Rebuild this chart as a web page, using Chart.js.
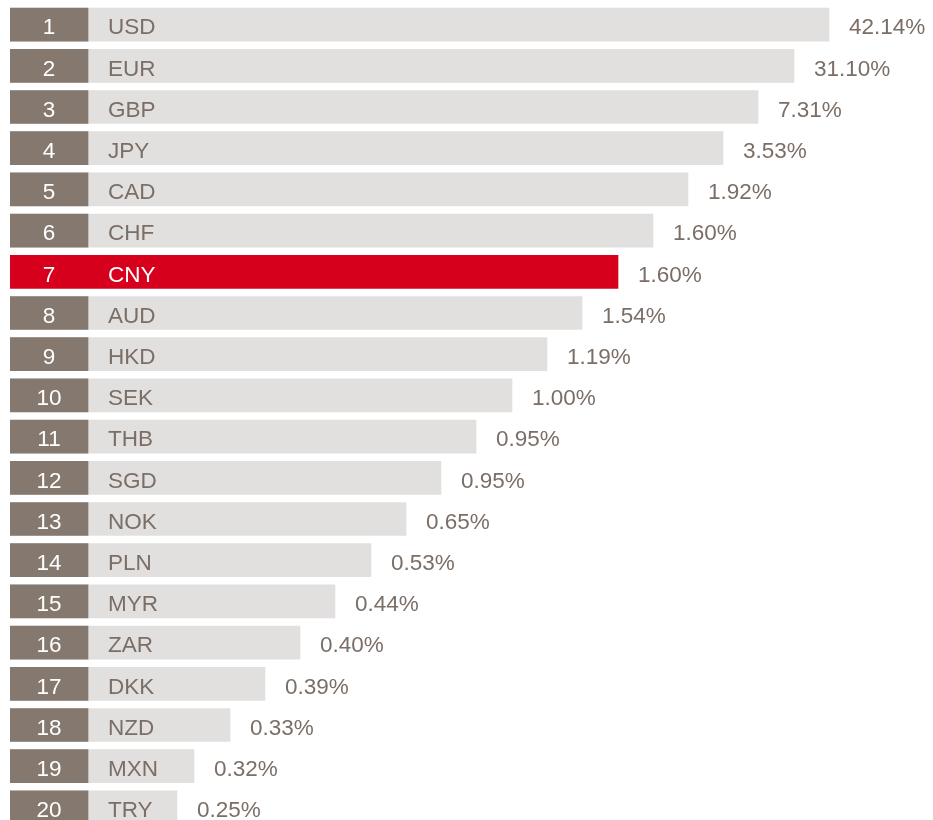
<!DOCTYPE html>
<html><head><meta charset="utf-8">
<script src="https://cdn.jsdelivr.net/npm/chart.js@4/dist/chart.umd.min.js"></script>
<style>html,body{margin:0;padding:0;background:#fff;overflow:hidden}canvas{display:block}</style>
</head><body>
<canvas id="c" width="933" height="828"></canvas>
<script>
// ---- data ----
const ranks = [1,2,3,4,5,6,7,8,9,10,11,12,13,14,15,16,17,18,19,20];
const currencies = ['USD','EUR','GBP','JPY','CAD','CHF','CNY','AUD','HKD','SEK','THB','SGD','NOK','PLN','MYR','ZAR','DKK','NZD','MXN','TRY'];
const shares = [42.14,31.10,7.31,3.53,1.92,1.60,1.60,1.54,1.19,1.00,0.95,0.95,0.65,0.53,0.44,0.40,0.39,0.33,0.32,0.25];
// displayed bar length (ranking graphic, not proportional to share)
const barLength = [819,784,748,713,678,643,608,572,537,502,466,431,396,361,325,290,255,220,184,167];
const highlight = 'CNY';

// ---- styles ----
const BOX_W = 78;
const AXIS_MAX = 923;
const C_BOX = '#85786f', C_BAR = '#e1e0df', C_RED = '#d7001c', C_TXT = '#7b6e66';
const FONT = '22.5px "Liberation Sans", Arial, sans-serif';

const isHi = currencies.map(c => c === highlight);

const labelPlugin = {
  id: 'labels',
  afterDatasetsDraw(chart) {
    const ctx = chart.ctx;
    const xs = chart.scales.x;
    const meta = chart.getDatasetMeta(1);
    const boxC = xs.getPixelForValue(BOX_W / 2);
    const nameX = xs.getPixelForValue(BOX_W) + 20;
    ctx.save();
    ctx.font = FONT;
    ctx.textBaseline = 'alphabetic';
    meta.data.forEach((bar, i) => {
      const yb = bar.y + 9.8;
      ctx.fillStyle = '#ffffff';
      ctx.textAlign = 'center';
      ctx.fillText(String(ranks[i]), boxC, yb);
      ctx.textAlign = 'left';
      ctx.fillStyle = isHi[i] ? '#ffffff' : C_TXT;
      ctx.fillText(currencies[i], nameX, yb);
      ctx.fillStyle = C_TXT;
      ctx.fillText(shares[i].toFixed(2) + '%', bar.x + 20, yb);
    });
    ctx.restore();
  }
};

new Chart(document.getElementById('c'), {
  type: 'bar',
  data: {
    labels: currencies,
    datasets: [
      {
        label: 'rank',
        data: currencies.map(() => [0, BOX_W]),
        backgroundColor: isHi.map(h => h ? 'rgba(0,0,0,0)' : C_BOX),
        barThickness: 33,
        grouped: false,
        borderWidth: 0
      },
      {
        label: 'share',
        data: barLength.map(v => [0, v]),
        backgroundColor: isHi.map(h => h ? C_RED : C_BAR),
        barThickness: 33,
        grouped: false,
        borderWidth: 0
      }
    ]
  },
  options: {
    indexAxis: 'y',
    responsive: false,
    animation: false,
    devicePixelRatio: 1,
    layout: { padding: { left: 10, right: 0, top: 4, bottom: 0 } },
    plugins: { legend: { display: false }, tooltip: { enabled: false } },
    scales: {
      x: { type: 'linear', min: 0, max: AXIS_MAX, display: false },
      y: { type: 'category', display: false, offset: true }
    }
  },
  plugins: [labelPlugin]
});
</script>
</body></html>
